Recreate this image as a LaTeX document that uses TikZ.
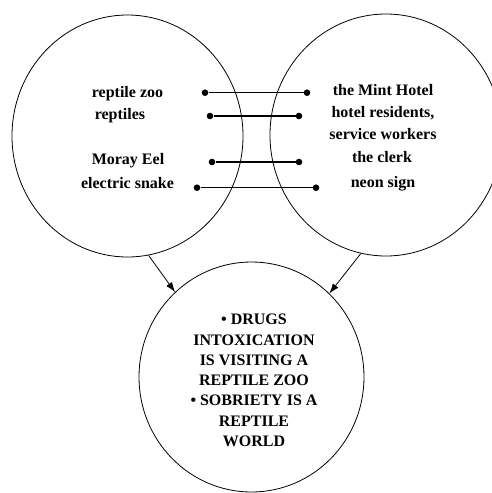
\documentclass[tikz,border=0pt]{standalone}
\usepackage{fontspec}
\setmainfont{Liberation Serif}
\usetikzlibrary{arrows.meta,shapes.geometric}
\tikzset{
  ring/.style={draw,ellipse,line width=0.8pt,inner sep=0pt},
  dot/.style={circle,fill,inner sep=0pt,minimum size=6.6pt},
  word/.style={anchor=base,inner sep=0pt,font=\fontsize{16}{20}\selectfont\bfseries}
}
\begin{document}
\begin{tikzpicture}[x=1pt,y=-1pt,>={Latex[length=10pt,width=7pt]}]
            \useasboundingbox (0,0) rectangle (491,493);
            \node[ring,minimum width=231pt,minimum height=242pt] (leftCircle) at (127.5,136) {};
            \node[ring,minimum width=232pt,minimum height=242pt] (rightCircle) at (386,135) {};
            \node[ring,minimum width=225pt,minimum height=230pt] (bottomCircle) at (251.5,377) {};
            \node[word] (src1) at (127.5,97) {reptile zoo};
            \node[word] (src2) at (120,119.5) {reptiles};
            \node[word] (src3) at (128,164) {Moray Eel};
            \node[word] (src4) at (127.5,188) {electric snake};
            \node[word] (tgt1) at (383,95) {the Mint Hotel};
            \node[word] (tgt2) at (383,117.5) {hotel residents,};
            \node[word] (tgt3) at (383,139.5) {service workers};
            \node[word] (tgt4) at (382,162) {the clerk};
            \node[word] (tgt5) at (383,187) {neon sign};
            \foreach \n/\y/\a/\b in {1/92.7/205/307,2/116/210/299,3/162/212/299,4/187.7/197/316} {
            \node[dot] (a\n) at (\a,\y) {};
            \node[dot] (b\n) at (\b,\y) {};
            \draw[line width=1.3pt] (a\n)--(b\n);
            }
            \node[word,anchor=center,align=center,font=\fontsize{16}{20.3}\selectfont\bfseries] (blend) at (254,380.5)
              {\textbullet\ DRUGS\\INTOXICATION\\IS VISITING A\\REPTILE ZOO\\\textbullet\ SOBRIETY IS A\\REPTILE\\WORLD};
            \draw[->,line width=0.8pt] (leftCircle.-80.7)--(bottomCircle.132.7);
            \draw[->,line width=0.8pt] (rightCircle.-102.3)--(bottomCircle.47);
        \end{tikzpicture}
\end{document}
